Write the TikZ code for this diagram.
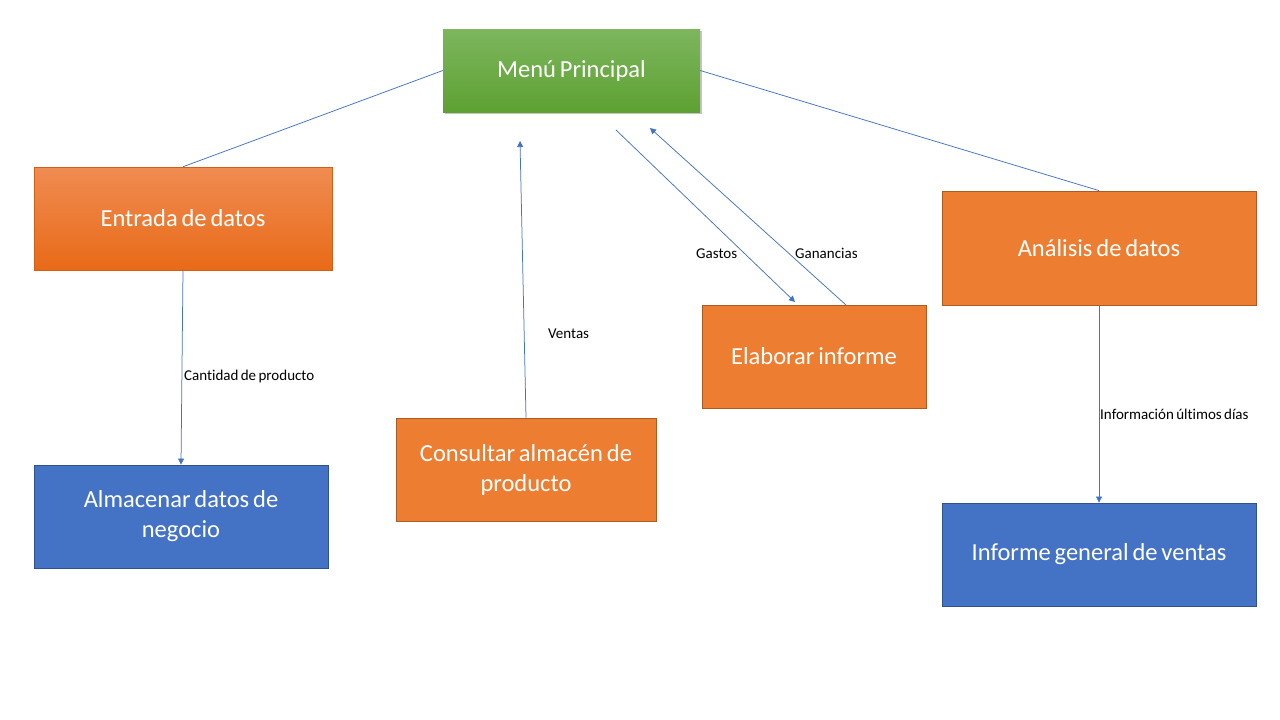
\documentclass[tikz,border=0pt]{standalone}
\usepackage{fontspec}
\setmainfont[WordSpace=0.7,Ligatures=NoCommon]{Carlito}
\usetikzlibrary{arrows.meta,shadows}
\definecolor{lnblue}{HTML}{4472C4}
\definecolor{bxblue}{HTML}{4472C4}
\definecolor{bxblueb}{HTML}{2F528F}
\definecolor{bxorange}{HTML}{ED7D31}
\definecolor{bxorangeb}{HTML}{AE5A21}
\definecolor{grtop}{HTML}{7DB65E}
\definecolor{grbot}{HTML}{5EA132}
\definecolor{ortop}{HTML}{F08C52}
\definecolor{orbot}{HTML}{E86A17}
\tikzset{
  box/.style={rectangle, inner sep=0pt, text=white, align=center, font=\fontsize{24.5}{30}\selectfont},
  bluebox/.style={box, fill=bxblue, draw=bxblueb, line width=0.8pt},
  orbox/.style={box, fill=bxorange, draw=bxorangeb, line width=0.8pt},
  conn/.style={draw=lnblue, line width=0.75pt},
  arr/.style={conn, -{Triangle[width=6pt,length=6pt]}},
  lbl/.style={font=\fontsize{15}{16}\selectfont, text=black, inner sep=0pt}
}
\begin{document}
\begin{tikzpicture}[x=1pt,y=-1pt]
\useasboundingbox (0,0) rectangle (1280,720);
% Menu principal
\node[box, minimum width=257pt, minimum height=83pt, top color=grtop, bottom color=grbot, draw=none,
  drop shadow={shadow xshift=1.5pt, shadow yshift=-2pt, fill=black!45, opacity=0.5}] (menu) at (571.5,70.5) {Menú Principal};
% Entrada de datos
\node[box, minimum width=298pt, minimum height=103pt, top color=ortop, bottom color=orbot, draw=orbot!90!black, line width=0.5pt] (entrada) at (183,218.5) {Entrada de datos};
% Almacenar
\node[bluebox, minimum width=294pt, minimum height=103pt] (almacenar) at (181,516.5) {Almacenar datos de\\negocio};
% Consultar
\node[orbox, minimum width=260pt, minimum height=103pt] (consultar) at (526,469.5) {Consultar almacén de\\producto};
% Elaborar
\node[orbox, minimum width=224pt, minimum height=103pt] (elaborar) at (814,356.5) {Elaborar informe};
% Analisis
\node[orbox, minimum width=314pt, minimum height=114pt] (analisis) at (1099,248) {Análisis de datos};
% Informe general
\node[bluebox, minimum width=314pt, minimum height=103pt] (informe) at (1099,554.5) {Informe general de ventas};

% free ends
\coordinate (ventasend) at (520,141);
\coordinate (gastosstart) at (616,130);
\coordinate (gastosend) at (795,302);
\coordinate (ganstart) at (846,305);
\coordinate (ganend) at (650,128);

% connectors
\draw[conn] (menu.west) -- (entrada.north);
\draw[conn] (menu.east) -- (analisis.north);
\draw[arr] (entrada.south) -- (almacenar.north);
\draw[arr] (consultar.north) -- (ventasend);
\draw[arr] (gastosstart) -- (gastosend);
\draw[arr] (ganstart) -- (ganend);
\draw[arr] (analisis.south) -- (informe.north);

% labels
\node[lbl, anchor=west] (l1) at (184,376) {Cantidad de producto};
\node[lbl, anchor=west] (l2) at (548,334) {Ventas};
\node[lbl, anchor=west] (l3) at (696,254) {Gastos};
\node[lbl, anchor=west] (l4) at (795,253) {Ganancias};
\node[lbl, anchor=west] (l5) at (1100,414) {Información últimos días};
\end{tikzpicture}
\end{document}
